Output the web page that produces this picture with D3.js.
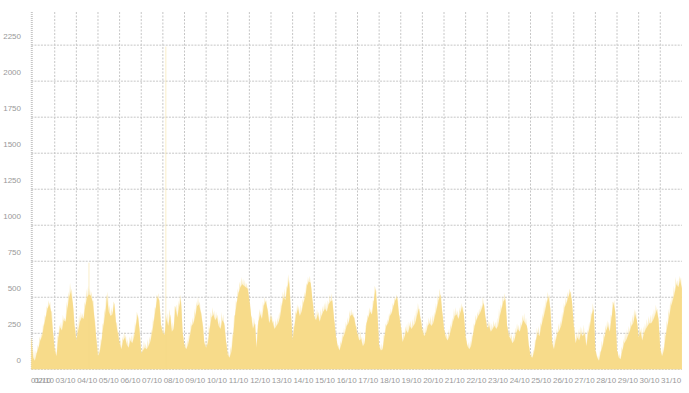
<!DOCTYPE html>
<html><head><meta charset="utf-8">
<script src="https://cdn.jsdelivr.net/npm/d3@7"></script>
<style>body{margin:0;background:#fff}svg{display:block}</style>
</head><body><svg id="c" width="689" height="393"></svg>
<script>
// ---- data: dense body, read every 2 hours starting 01/10 22:00 ----
const firstSample = [220];
const week1 = [ // 02/10 .. 08/10 (00,02,...,22h)
  80,60,110,150,200,230,300,360,420,450,400,260,
  130,90,220,290,270,340,330,420,500,540,460,300,
  200,270,330,360,350,440,500,520,510,470,360,220,
  90,120,200,300,380,500,400,370,380,460,320,250,
  180,140,200,220,170,150,200,180,220,300,380,280,
  110,130,150,140,160,190,250,330,420,500,480,300,
  250,240,350,300,380,260,280,430,360,430,490,250
];
const week2 = [ // 09/10 .. 15/10
  160,140,170,230,300,320,370,440,450,400,320,180,
  150,180,280,360,380,340,360,300,280,340,320,200,
  100,80,120,230,370,460,530,570,590,580,570,560,
  480,370,280,320,150,330,380,350,440,470,420,320,
  360,320,280,300,320,360,440,500,480,560,620,400,
  200,300,380,420,370,400,460,500,580,610,600,480,
  360,340,380,330,370,400,420,400,450,470,480,350
];
const week3 = [ // 16/10 .. 22/10
  230,160,130,170,220,250,300,320,370,380,360,300,
  240,200,210,160,180,320,360,400,380,470,560,400,
  160,130,140,230,300,320,370,390,440,480,500,380,
  300,190,220,270,250,300,280,300,320,370,420,350,
  270,230,250,300,320,300,320,370,420,480,520,400,
  280,220,200,230,280,330,370,380,350,390,430,380,
  220,160,140,160,230,300,340,370,390,420,460,360
];
const week4 = [ // 23/10 .. 29/10
  280,300,260,280,300,280,300,370,420,470,490,300,
  230,210,180,200,250,280,260,300,340,320,300,170,
  90,80,120,200,250,230,300,350,400,460,500,420,
  180,140,200,250,270,300,360,430,460,500,540,470,
  300,180,220,200,250,230,250,160,250,300,380,420,
  130,80,60,120,160,220,270,300,260,360,460,400,
  130,80,70,130,180,200,230,260,300,320,380,340
];
const week5 = [ // 30/10 .. 31/10, then 01/11 00:00
  220,260,200,250,280,300,320,320,340,370,410,350,
  140,90,130,230,300,370,440,480,530,590,570,620,
  560
];
// ---- faint short peaks at the odd hours (01/10 23h, then 01,03,...,23h) ----
const peaksFirst = [200];
const peaks1 = [
  140,130,170,230,250,320,380,440,480,470,410,230,
  150,240,310,330,380,360,470,540,600,560,420,290,
  320,380,400,390,470,560,580,560,540,480,330,180,
  150,210,320,420,520,540,450,430,470,420,330,260,
  210,230,260,240,210,230,240,250,330,400,360,220,
  160,200,180,210,230,280,360,430,520,530,420,310,
  290,380,390,420,360,330,440,450,480,520,400,220
];
const peaks2 = [
  190,210,260,330,360,420,470,500,470,390,290,200,
  220,310,400,430,410,400,380,350,400,380,300,170,
  120,160,250,380,480,560,610,640,630,620,600,560,
  450,360,360,310,300,420,410,470,500,480,400,390,
  380,340,350,360,400,470,540,560,580,660,560,330,
  300,410,450,440,450,490,540,600,640,650,560,450,
  400,420,400,420,440,460,470,480,520,530,430,320
];
const peaks3 = [
  210,170,200,250,290,330,360,410,420,400,360,300,
  260,270,230,220,300,380,430,420,480,580,540,300,
  170,180,240,320,350,390,420,460,500,520,470,370,
  280,260,300,320,330,340,350,380,420,460,420,340,
  290,300,330,360,370,380,400,460,520,560,500,360,
  270,250,280,320,360,420,430,410,430,460,440,310,
  210,190,200,250,320,380,400,420,450,500,440,340
];
const peaks4 = [
  340,330,320,340,330,360,420,450,510,530,450,290,
  270,250,240,290,320,310,330,380,390,360,280,150,
  120,140,210,290,300,330,390,450,490,540,520,330,
  210,240,280,320,340,400,460,500,540,560,530,400,
  290,260,280,300,290,310,260,280,330,400,460,330,
  120,100,130,200,250,310,340,330,380,470,480,260,
  120,110,160,210,260,280,300,340,380,420,410,300
];
const peaks5 = [
  300,290,300,320,350,370,380,390,420,450,420,260,
  130,160,260,340,420,480,520,580,640,620,650,640
];
// isolated thin spikes (day of month, hour, value)
const spikeDays = [4, 8];
const spikeHours = [14, 3.3];
const spikeValues = [740, 2240];

const yTicks = [0,250,500,750,1000,1250,1500,1750,2000,2250];
const dayLabels = ["01/10","02/10","03/10","04/10","05/10","06/10","07/10","08/10","09/10","10/10",
  "11/10","12/10","13/10","14/10","15/10","16/10","17/10","18/10","19/10","20/10",
  "21/10","22/10","23/10","24/10","25/10","26/10","27/10","28/10","29/10","30/10","31/10"];

// ---- build series ----
const t0 = Date.UTC(2023, 9, 1, 22);
const H = 3600e3;
const values = [...firstSample, ...week1, ...week2, ...week3, ...week4, ...week5];
const peaks = [...peaksFirst, ...peaks1, ...peaks2, ...peaks3, ...peaks4, ...peaks5];
const series = values.map((v, i) => ({t: new Date(t0 + i * 2 * H), v}));
const peakSeries = [];
values.forEach((v, i) => {
  peakSeries.push({t: new Date(t0 + i * 2 * H), v});
  if (i < peaks.length) peakSeries.push({t: new Date(t0 + (i * 2 + 1) * H), v: peaks[i]});
});

const svg = d3.select("#c");
const x = d3.scaleUtc()
  .domain([new Date(t0), new Date(Date.UTC(2023, 10, 1, 0))])
  .range([31.3, 681.9]);
const y = d3.scaleLinear().domain([0, 2480]).range([369.3, 12]);

const gridColor = "#c6c6c6";
// horizontal grid
svg.append("g").selectAll("line").data(yTicks).join("line")
  .attr("x1", 31.3).attr("x2", 681.9)
  .attr("y1", d => y(d)).attr("y2", d => y(d))
  .attr("stroke", gridColor).attr("stroke-width", 1)
  .attr("stroke-dasharray", "2,1.2");
// vertical day grid
const dayStarts = d3.range(2, 32).map(d => new Date(Date.UTC(2023, 9, d)));
svg.append("g").selectAll("line").data(dayStarts.slice(1)).join("line")
  .attr("x1", d => x(d)).attr("x2", d => x(d))
  .attr("y1", 12).attr("y2", y(0))
  .attr("stroke", gridColor).attr("stroke-width", 1)
  .attr("stroke-dasharray", "2,1.5");
// left axis line
svg.append("line")
  .attr("x1", 31.8).attr("x2", 31.8).attr("y1", 12).attr("y2", y(0))
  .attr("stroke", gridColor).attr("stroke-width", 2)
  .attr("stroke-dasharray", "1,1");

// areas
const area = d3.area().x(d => x(d.t)).y0(y(0)).y1(d => y(d.v));
svg.append("path").datum(peakSeries).attr("d", area).attr("fill", "#f7db8a").attr("fill-opacity", 0.45);
svg.append("path").datum(series).attr("d", area).attr("fill", "#f7db8a");

// spikes
const spikes = spikeDays.map((d, i) => ({t: new Date(Date.UTC(2023, 9, d) + spikeHours[i] * H), v: spikeValues[i]}));
svg.append("g").selectAll("line").data(spikes).join("line")
  .attr("x1", d => x(d.t)).attr("x2", d => x(d.t))
  .attr("y1", d => y(d.v)).attr("y2", y(0))
  .attr("stroke", "#f7db8a").attr("stroke-opacity", 0.45).attr("stroke-width", 1);

// y labels
svg.append("g").selectAll("text").data(yTicks).join("text")
  .attr("x", 21).attr("y", d => y(d) - 6.3)
  .attr("text-anchor", "end")
  .attr("font-family", "'Liberation Sans', Arial, sans-serif")
  .attr("font-size", 8).attr("fill", "#999")
  .text(d => d);

// x labels (centred on each day; the partial first day sits at the left edge)
svg.append("g").selectAll("text").data(dayLabels).join("text")
  .attr("x", (d, i) => i === 0 ? x.range()[0] - 0.3 : x(new Date(Date.UTC(2023, 9, i + 1, 12))))
  .attr("y", 383)
  .attr("text-anchor", (d, i) => i === 0 ? "start" : "middle")
  .attr("font-family", "'Liberation Sans', Arial, sans-serif")
  .attr("font-size", 8).attr("fill", "#999")
  .text(d => d);
</script>
</body></html>
